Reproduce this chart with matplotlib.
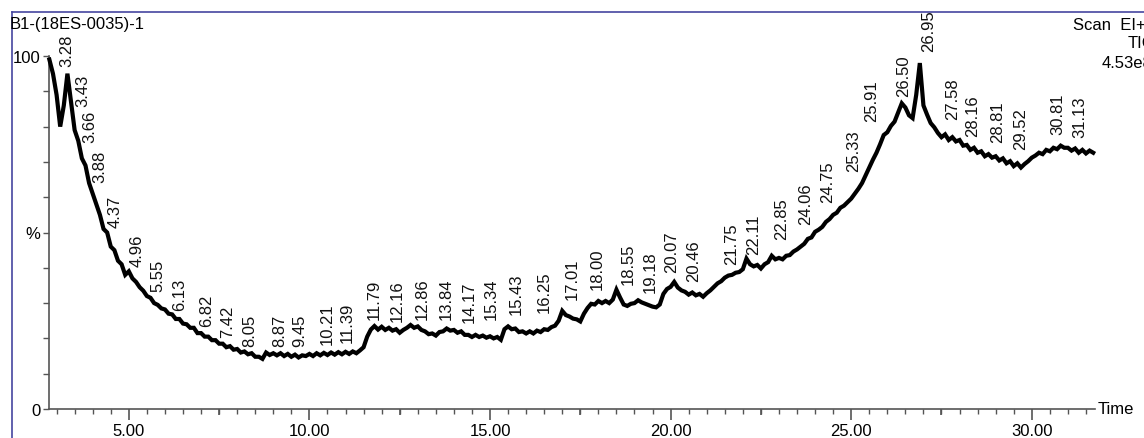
import numpy as np
import matplotlib
matplotlib.use('Agg')
import matplotlib.pyplot as plt
from matplotlib.lines import Line2D
import matplotlib.transforms as mtransforms

plt.rcParams['font.family'] = ['Liberation Sans', 'DejaVu Sans']

# ---- data (TIC, % of 4.53e8) ----
t_start, t_step = 2.8, 0.1
tic = [
    99, 95,
    89, 80, 86, 95, 87, 79, 76, 71, 69, 64,
    61, 58, 55, 51, 50, 46, 45, 42, 41, 38,
    39, 37, 36, 34.5, 33.5, 32, 31.5, 30, 29.5, 28.5,
    28.2, 27, 26.8, 25.5, 25.5, 24.2, 24, 23, 23, 21.5,
    21.5, 20.5, 20.5, 19.5, 19.5, 18.5, 18.5, 17.5, 17.8, 16.8,
    17, 16, 16.3, 15.5, 15.8, 14.8, 14.8, 14.2, 16, 15.3,
    15.8, 15.2, 15.8, 15, 15.6, 14.8, 15.4, 14.6, 15.2, 15,
    15.6, 15, 15.8, 15.2, 15.9, 15.3, 16, 15.4, 16.1, 15.5,
    16.2, 15.6, 16.3, 15.8, 16.6, 17.5, 20.5, 22.5, 23.5, 22.5,
    23.3, 22.4, 23, 22.2, 22.6, 21.6, 22.4, 23, 23.8, 23,
    23.4, 22.4, 22, 21.2, 21.4, 20.8, 21.8, 22, 22.8, 22.2,
    22.4, 21.6, 22, 21, 21, 20.4, 21, 20.4, 20.8, 20.2,
    20.6, 20, 20.4, 19.6, 22.6, 23.4, 22.6, 22.8, 21.8, 22,
    21.4, 22, 21.4, 22.2, 21.8, 22.6, 22.4, 23.2, 23.6, 25,
    27.8, 26.6, 26.2, 25.6, 25.4, 24.8, 27, 28.6, 29.8, 29.6,
    30.6, 30, 30.6, 30, 31, 33.8, 31.6, 29.6, 29.2, 29.8,
    30, 30.8, 30.2, 29.8, 29.4, 29, 28.8, 29.6, 32.6, 34,
    34.6, 36, 34.4, 33.6, 33.2, 32.4, 33, 32.2, 32.6, 31.8,
    32.8, 33.6, 34.6, 35.6, 36.2, 37.2, 37.8, 38, 38.6, 38.8,
    39.6, 42.6, 41, 40.4, 40.8, 39.8, 41, 41.6, 43.4, 42.4,
    42.8, 42.4, 43.4, 43.6, 44.6, 45.2, 46, 46.8, 48.2, 48.6,
    50.2, 50.8, 51.6, 53, 53.8, 55, 55.6, 57, 57.6, 58.6,
    59.6, 61, 62.4, 64, 66.2, 68.4, 70.6, 72.6, 75, 77.6,
    78.4, 80.2, 81.4, 84, 86.6, 85.4, 83.2, 82.4, 89, 98,
    86, 83.4, 81, 79.8, 78.2, 77, 77.8, 76.2, 77, 75.8,
    76.2, 74.6, 74.8, 73.4, 74, 72.6, 73, 71.6, 72.2, 71.2,
    71.6, 70.4, 71, 69.6, 70.2, 68.8, 69.6, 68.4, 69.4, 70.2,
    71.2, 71.8, 72.6, 72.2, 73.4, 73, 74, 73.6, 74.6, 74,
    74, 73.2, 73.8, 72.6, 73.4, 72.4, 73.2, 72.6,
]
times = t_start + t_step * np.arange(len(tic))

peak_labels = ['3.28', '3.43', '3.66', '3.88', '4.37', '4.96', '5.55', '6.13',
               '6.82', '7.42', '8.05', '8.87', '9.45', '10.21', '11.39', '11.79',
               '12.16', '12.86', '13.84', '14.17', '15.34', '15.43', '16.25',
               '17.01', '18.00', '18.55', '19.18', '20.07', '20.46', '21.75',
               '22.11', '22.85', '24.06', '24.75', '25.33', '25.91', '26.50',
               '26.95', '27.58', '28.16', '28.81', '29.52', '30.81', '31.13']

# where each label text sits (x centre, bottom in % units)
label_x = [3.29, 3.73, 3.92, 4.2, 4.61, 5.22, 5.8, 6.4, 7.15, 7.73, 8.34, 9.17,
           9.72, 10.5, 11.05, 11.8, 12.43, 13.12, 13.8, 14.42, 15.03, 15.72,
           16.49, 17.27, 17.96, 18.84, 19.45, 20.03, 20.63, 21.69, 22.29, 23.07,
           23.73, 24.36, 25.06, 25.56, 26.44, 27.13, 27.82, 28.37, 29.06, 29.7,
           30.72, 31.33]
label_y = [97.2, 85.8, 75.6, 64.3, 51.6, 40.5, 33.5, 28.0, 23.5, 20.3, 17.8, 17.8,
           17.8, 18.4, 19.0, 25.5, 24.9, 25.5, 25.5, 24.6, 25.5, 26.9,
           27.5, 31.2, 34.0, 35.4, 33.1, 38.8, 36.3, 41.1, 43.9, 48.2,
           52.4, 58.6, 67.4, 81.6, 88.7, 101.4, 82.2, 77.3, 75.6, 73.7,
           77.9, 77.1]

W, H = 1144, 439
fig = plt.figure(figsize=(W / 100, H / 100), dpi=100)
ax = fig.add_axes([49 / W, 29 / H, (1095 - 49) / W, (410 - 57) / H])

ax.plot(times, tic, color='black', lw=3.0, solid_joinstyle='miter',
        clip_on=False, zorder=3)

for lab, lx, ly in zip(peak_labels, label_x, label_y):
    ax.text(lx, ly, lab, rotation=90, ha='center', va='bottom', fontsize=12,
            color='#111111', clip_on=False)

ax.set_xlim(2.79, 31.75)
ax.set_ylim(0, 100)
for s in ['top', 'right']:
    ax.spines[s].set_visible(False)
for s in ['left', 'bottom']:
    ax.spines[s].set_color('#555555')
    ax.spines[s].set_linewidth(1.2)

ax.set_xticks([5, 10, 15, 20, 25, 30])
ax.set_xticklabels(['5.00', '10.00', '15.00', '20.00', '25.00', '30.00'], fontsize=12)
ax.set_xticks(np.arange(3.0, 31.6, 0.5), minor=True)
ax.tick_params(axis='x', which='major', length=8, width=1.2, color='#555555', pad=2)
ax.tick_params(axis='x', which='minor', length=3.5, width=1, color='#555555')
# medium ticks at the half-way marks
trans = mtransforms.blended_transform_factory(ax.transData, ax.transAxes)
ax.vlines([7.5, 12.5, 17.5, 22.5, 27.5], 0, -6 / 353, transform=trans,
          color='#555555', lw=1.2, clip_on=False)

ax.set_yticks(np.arange(0, 101, 10))
ax.set_yticklabels(['0', '', '', '', '', '%', '', '', '', '', '100'], fontsize=12)
ax.tick_params(axis='y', length=4, width=1, color='#555555', pad=2)

# frame + header texts (right-hand ones run off the edge, as in the original)
fig.add_artist(Line2D([12 / W, 12 / W], [0, 1 - 13 / H], color='#4545a0', lw=1.2))
fig.add_artist(Line2D([12 / W, 1], [1 - 13 / H, 1 - 13 / H], color='#4545a0', lw=1.2))
fig.text(10 / W, 1 - 25 / H, 'B1-(18ES-0035)-1', fontsize=12, va='center', ha='left')
fig.text(1073 / W, 1 - 25 / H, 'Scan  EI+', fontsize=12, va='center', ha='left')
fig.text(1128 / W, 1 - 43 / H, 'TIC', fontsize=12, va='center', ha='left')
fig.text(1102 / W, 1 - 64 / H, '4.53e8', fontsize=12, va='center', ha='left')
fig.text(1098 / W, 29 / H, 'Time', fontsize=12, va='center', ha='left')

fig.savefig('out.png', dpi=100)
